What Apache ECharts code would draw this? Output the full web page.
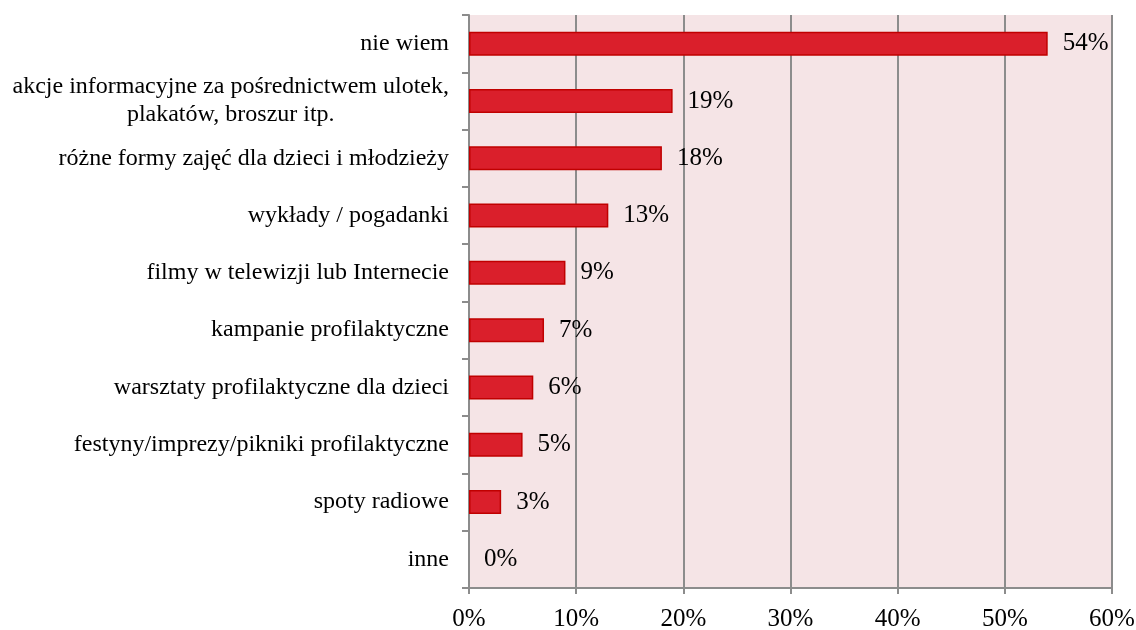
<!DOCTYPE html>
<html><head><meta charset="utf-8">
<script src="https://cdn.jsdelivr.net/npm/echarts@6/dist/echarts.min.js"></script>
<style>html,body{margin:0;padding:0;background:#fff}#c{width:1136px;height:630px}</style>
</head><body><div id="c"></div>
<script>
const categories = [
  'nie wiem',
  'akcje informacyjne za pośrednictwem ulotek,\nplakatów, broszur itp.',
  'różne formy zajęć dla dzieci i młodzieży',
  'wykłady / pogadanki',
  'filmy w telewizji lub Internecie',
  'kampanie profilaktyczne',
  'warsztaty profilaktyczne dla dzieci',
  'festyny/imprezy/pikniki profilaktyczne',
  'spoty radiowe',
  'inne'
];
const values = [54, 19, 18, 13, 9, 7, 6, 5, 3, 0];
const xTicks = [0, 10, 20, 30, 40, 50, 60];

const font = '"Liberation Serif", "Times New Roman", serif';
const chart = echarts.init(document.getElementById('c'));
chart.setOption({
  animation: false,
  grid: { left: 469, top: 15, right: 24, bottom: 42, show: true, backgroundColor: '#F5E4E6', borderWidth: 0, outerBoundsMode: 'none', containLabel: false },
  xAxis: {
    type: 'value', min: xTicks[0], max: xTicks[xTicks.length - 1], interval: 10,
    axisLine: { show: true, lineStyle: { color: '#8c8c8c', width: 2 } },
    axisTick: { show: true, length: 6, lineStyle: { color: '#8c8c8c', width: 2 } },
    splitLine: { show: true, lineStyle: { color: '#8c8c8c', width: 2 } },
    axisLabel: { formatter: v => v + '%', color: '#000', fontFamily: font, fontSize: 25, margin: 19 }
  },
  yAxis: {
    type: 'category', data: categories, inverse: true,
    axisLine: { show: true, lineStyle: { color: '#8c8c8c', width: 2 } },
    axisTick: { show: true, length: 7, lineStyle: { color: '#8c8c8c', width: 2 } },
    axisLabel: {
      color: '#000', fontFamily: font, fontSize: 24, margin: 20,
      formatter: v => v.split('\n').map(s => '{c|' + s + '}').join('\n'),
      rich: { c: { align: 'center', fontFamily: font, fontSize: 24, color: '#000', lineHeight: 28 } }
    }
  },
  series: [{
    type: 'bar',
    data: values.map(v => v === 0 ? { value: v, itemStyle: { borderWidth: 0 } } : v),
    barWidth: 24,
    itemStyle: { color: '#DA1F2B', borderColor: '#C00000', borderWidth: 1.5 },
    label: { show: true, position: 'right', distance: 15, formatter: p => p.value + '%', color: '#000', fontFamily: font, fontSize: 25 }
  }]
});
</script></body></html>
